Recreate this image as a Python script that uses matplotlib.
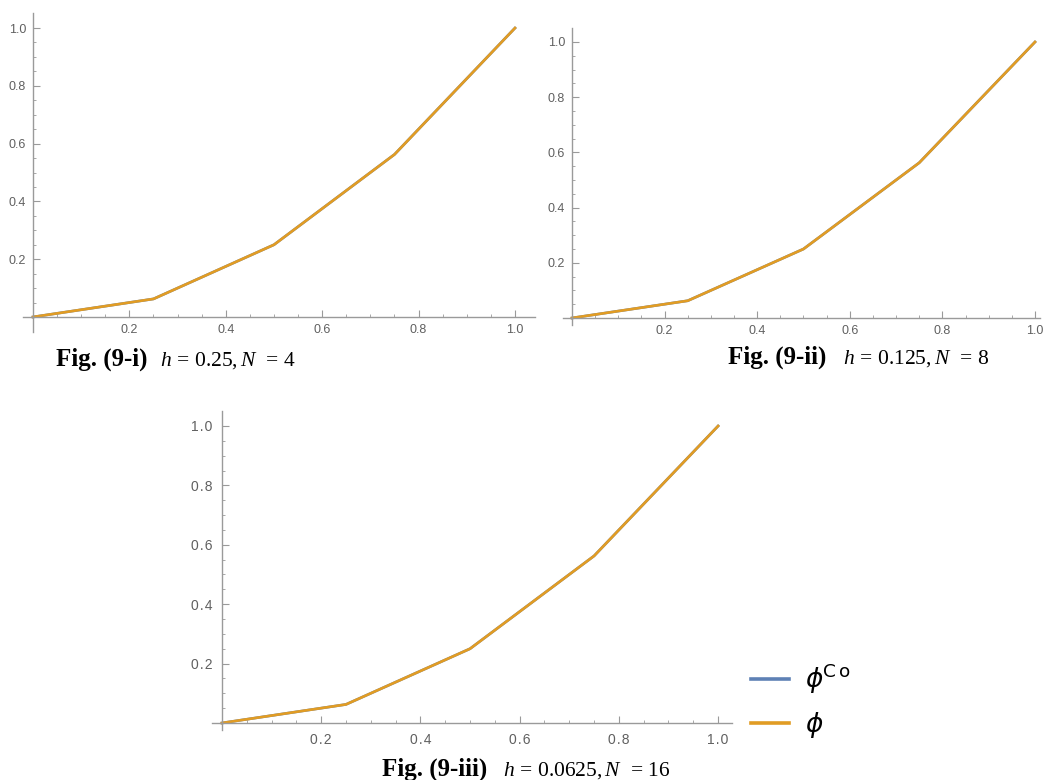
import matplotlib
matplotlib.use("Agg")
import matplotlib.pyplot as plt
from matplotlib.ticker import FixedLocator, FixedFormatter

# nodal values (both curves lie on top of each other)
x_nodes = [0.0, 0.25, 0.5, 0.75, 1.0]
phi_co = [0.0, 0.0625, 0.25, 0.5625, 1.0]
phi_exact = [0.0, 0.0625, 0.25, 0.5625, 1.0]

major_ticks = [0.2, 0.4, 0.6, 0.8, 1.0]
minor_ticks = [0.05, 0.1, 0.15, 0.25, 0.3, 0.35, 0.45, 0.5, 0.55, 0.65,
               0.7, 0.75, 0.85, 0.9, 0.95]
tick_labels = ["0.2", "0.4", "0.6", "0.8", "1.0"]

fig_labels = ["Fig. (9-i)", "Fig. (9-ii)", "Fig. (9-iii)"]
param_labels = [r"$h\,=\,0.25,N\ \,=\,4$", r"$h\,=\,0.125,N\ \,=\,8$",
                r"$h\,=\,0.0625,N\ \,=\,16$"]

BLUE = "#5E81B5"
ORANGE = "#E19C24"
AXIS = "#9a9a9a"
TEXT = "#606060"

plt.rcParams["mathtext.fontset"] = "custom"
plt.rcParams["mathtext.rm"] = "Liberation Serif"
plt.rcParams["mathtext.it"] = "Liberation Serif:italic"
plt.rcParams["mathtext.bf"] = "Liberation Serif:bold"

W, H = 1043, 780
fig = plt.figure(figsize=(W / 100, H / 100), dpi=100)


def px(x, y):
    return x / W, 1 - y / H


def make_panel(rect, xlim, ylim, spaced=False, lsize=9):
    left, top, right, bottom = rect
    ax = fig.add_axes([left / W, 1 - bottom / H, (right - left) / W, (bottom - top) / H])
    ax.plot(x_nodes, phi_co, color=BLUE, lw=1.9, label="\u03d5$^{\\mathrm{C\\,o}}$")
    ax.plot(x_nodes, phi_exact, color=ORANGE, lw=1.9, label="\u03d5")
    ax.set_xlim(*xlim)
    ax.set_ylim(*ylim)
    for s in ["top", "right"]:
        ax.spines[s].set_visible(False)
    ax.spines["left"].set_position(("data", 0))
    ax.spines["bottom"].set_position(("data", 0))
    for s in ["left", "bottom"]:
        ax.spines[s].set_color(AXIS)
        ax.spines[s].set_linewidth(1.0)
    labels = tick_labels
    if spaced:
        labels = ["\u200a".join(t) for t in tick_labels]
    for axis in [ax.xaxis, ax.yaxis]:
        axis.set_major_locator(FixedLocator(major_ticks))
        axis.set_major_formatter(FixedFormatter(labels))
        axis.set_minor_locator(FixedLocator(minor_ticks))
    ax.tick_params(which="major", direction="in", length=5, width=0.8, color=AXIS,
                   labelcolor=TEXT, labelsize=lsize, pad=5)
    ax.tick_params(which="minor", direction="in", length=2.5, width=0.6, color=AXIS)
    for t in ax.get_xticklabels() + ax.get_yticklabels():
        t.set_family("Liberation Sans")
    ax.patch.set_visible(False)
    return ax


ax1 = make_panel((23, 13, 535, 332), (-0.0207, 1.0415), (-0.052, 1.052))
ax2 = make_panel((563, 28, 1040, 325), (-0.0194, 1.0108), (-0.0254, 1.0507))
ax3 = make_panel((212, 411, 732, 730), (-0.020, 1.028), (-0.0236, 1.0505),
                 spaced=True, lsize=10)
ax3.tick_params(which="major", pad=7)

caption_pos = [((56, 366), (160, 366)), ((728, 364), (843, 364)), ((382, 776), (503, 776))]
for (fpos, ppos), fl, pl in zip(caption_pos, fig_labels, param_labels):
    fig.text(*px(*fpos), fl, family="Liberation Serif", weight="bold", fontsize=18,
             va="baseline", ha="left")
    fig.text(*px(*ppos), pl, fontsize=15.5, va="baseline", ha="left")

handles, labels = ax3.get_legend_handles_labels()
plt.rcParams["mathtext.fontset"] = "dejavusans"
leg = fig.legend(handles, labels, loc="center left", bbox_to_anchor=px(727, 700),
                 frameon=False, handlelength=1.45, handletextpad=0.6,
                 labelspacing=0.6, prop={"size": 19, "style": "italic", "family": "DejaVu Sans"})
for line in leg.get_lines():
    line.set_linewidth(2.6)

fig.savefig("out.png", dpi=100)
